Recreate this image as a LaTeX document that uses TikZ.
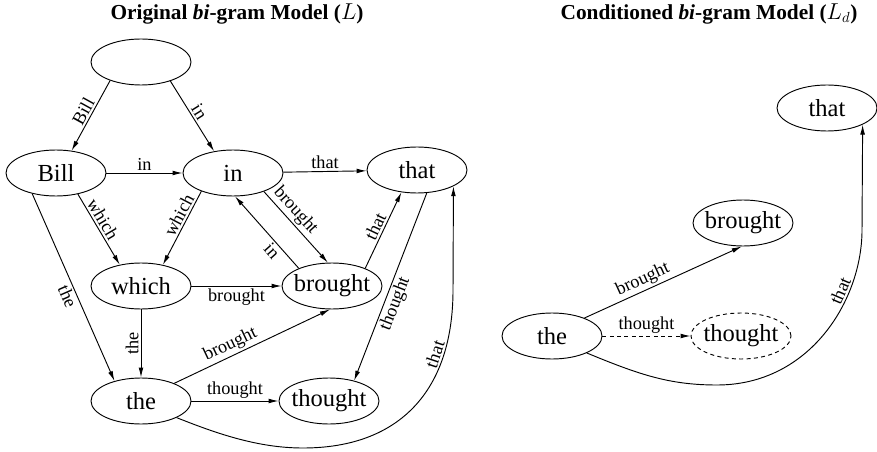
\documentclass[tikz,border=0pt]{standalone}
\usepackage{fontspec}
\setmainfont{Liberation Serif}
\usetikzlibrary{arrows.meta,shapes.geometric}
\newcommand\ntxt[1]{\makebox[0pt]{#1}}
\begin{document}
\begin{tikzpicture}[x=0.75pt,y=-0.75pt,
  wnode/.style={ellipse,draw,line width=0.7pt,minimum width=75pt,minimum height=34.5pt,inner sep=0pt,font=\fontsize{18.4}{20}\selectfont},
  edge/.style={line width=0.7pt,-{Latex[length=7.5pt,width=3.6pt]}},
  lbl/.style={font=\fontsize{13.7}{15}\selectfont,inner sep=1.5pt},
  ttl/.style={font=\bfseries\fontsize{16}{18}\selectfont}]
\useasboundingbox (0,0) rectangle (877,452);

\node[ttl] (t1) at (237,14) {Original \textit{bi}-gram Model ($L$)};
\node[ttl] (t2) at (709,14) {Conditioned \textit{bi}-gram Model ($L_d$)};

% left graph
\node[wnode] (s) at (141,62) {};
\node[wnode] (bill) at (56,173) {\ntxt{Bill}};
\node[wnode] (in) at (233,173) {\ntxt{in}};
\node[wnode] (that) at (417,170) {\ntxt{that}};
\node[wnode] (which) at (141,286) {\ntxt{which}};
\node[wnode] (brought) at (332,286) {\ntxt{brought}};
\node[wnode] (the) at (141,401) {\ntxt{the}};
\node[wnode] (thought) at (329,401) {\ntxt{thought}};

\draw[edge] (s.-149) -- node[lbl,sloped,above]{Bill} (bill.55);
\draw[edge] (s.-33) -- node[lbl,sloped,above]{in} (in.131);
\draw[edge] (bill) -- node[lbl,above]{in} (in);
\draw[edge] (in) -- node[lbl,above]{that} (that);
\draw[edge] (bill.-44) -- node[lbl,sloped,above,pos=0.42]{which} (which.135);
\draw[edge] (in.-150) -- node[lbl,sloped,above,pos=0.38]{which} (which.44);
\draw[edge] (brought.152) -- node[lbl,sloped,below,pos=0.32]{in} (in.-85);
\draw[edge] (in.-31) -- node[lbl,sloped,above,pos=0.37]{brought} (brought.100);
\draw[edge] (brought.28) -- node[lbl,sloped,above]{that} (that.-125);
\draw[edge] (that.-67) -- node[lbl,sloped,below,pos=0.57]{thought} (thought.39);
\draw[edge] (bill.-139) -- node[lbl,sloped,below,pos=0.53]{the} (the.143);
\draw[edge] (which) -- node[lbl,rotate=90,above]{the} (the);
\draw[edge] (which) -- node[lbl,below]{brought} (brought);
\draw[edge] (the.28) -- node[lbl,sloped,above,pos=0.39]{brought} (brought.-95);
\draw[edge] (the) -- node[lbl,above]{thought} (thought);
\draw[edge] (the.-25) .. controls (220,435) and (260,448) .. (303,448)
  .. controls (400,448) and (453,390) .. node[lbl,sloped,above,pos=0.75]{that} (453,290)
  -- (that.-24);

% right graph
\node[wnode] (that2) at (827,108) {\ntxt{that}};
\node[wnode] (brought2) at (743,223) {\ntxt{brought}};
\node[wnode] (the2) at (552,336) {\ntxt{the}};
\node[wnode,dash pattern=on 3pt off 2.5pt] (thought2) at (741,336) {\ntxt{thought}};

\draw[edge] (the2.29) -- node[lbl,sloped,above,pos=0.4]{brought} (brought2.-93);
\draw[edge,dash pattern=on 3pt off 2.5pt] (the2) -- node[lbl,above]{thought} (thought2);
\draw[edge] (the2.-26) .. controls (640,375) and (670,385) .. (717,385)
  .. controls (810,385) and (862,300) .. node[lbl,sloped,above,pos=0.7]{that} (862,230)
  -- (that2.-25);
\end{tikzpicture}
\end{document}
